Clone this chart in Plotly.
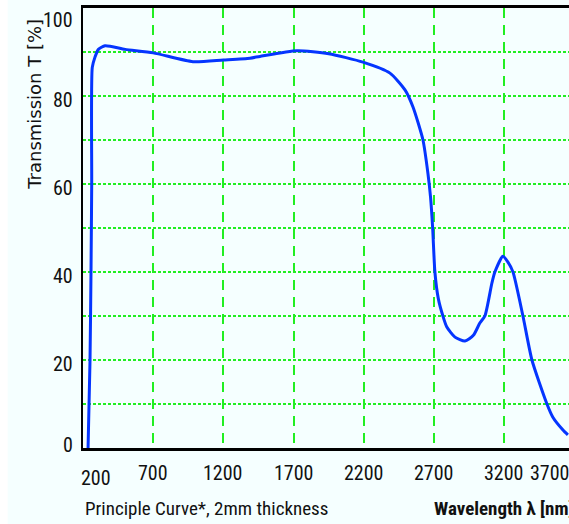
import plotly.graph_objects as go

# Transmission curve
wavelength = [236, 250, 257, 262, 266, 285, 310, 357, 500, 700, 983, 1200, 1389, 1460,
              1724, 1950, 2194, 2386, 2493, 2550, 2621, 2656, 2675, 2690, 2706, 2730, 2763,
              2791, 2849, 2920, 2980, 3026, 3062, 3112, 3133, 3190, 3225, 3262, 3333, 3397, 3504,
              3546, 3618, 3653]
transmission = [0, 20, 40, 60, 86.5, 88.8, 90.6, 91.4, 90.6, 89.8, 87.8, 88.2, 88.6, 89.0,
                90.3, 89.6, 87.7, 85.2, 81.4, 77.5, 70, 62.5, 57, 50, 40, 34, 30,
                27.5, 25.2, 24.3, 25.6, 28.4, 30, 37.5, 40, 43.6, 42.3, 40, 30, 20, 10,
                7, 4.1, 3.0]

x_ticks = [200, 700, 1200, 1700, 2200, 2700, 3200, 3700]
x_tick_labels = ["200", "700", "1200", "1700", "2200", "2700", "3200", "3700"]
y_ticks = [0, 20, 40, 60, 80, 100]
y_tick_labels = ["0", "20", "40", "60", "80", "100"]
y_grid = [0, 10, 20, 30, 40, 50, 60, 70, 80, 90, 100]

X_RANGE = [200, 3661]
BG = "#F5FFFF"
GRID = "#22EE22"
NARROW = "Liberation Sans Narrow, Arial Narrow, Roboto Condensed, Roboto, sans-serif"

fig = go.Figure()
fig.add_trace(go.Scatter(
    x=wavelength, y=transmission, mode="lines",
    line=dict(color="#0535FF", width=3, shape="spline", smoothing=0.6),
    showlegend=False, hoverinfo="skip",
))

fig.update_layout(
    width=569, height=524,
    margin=dict(l=83, r=0, t=8, b=76),
    paper_bgcolor=BG, plot_bgcolor=BG,
    xaxis=dict(
        range=X_RANGE, tickvals=x_ticks[1:], showticklabels=False,
        showgrid=True, gridcolor=GRID, gridwidth=1.5, griddash="10px,7px",
        showline=True, linecolor="black", linewidth=3, mirror=True,
        zeroline=False, ticks="",
    ),
    yaxis=dict(
        range=[0, 100], tickvals=y_grid, showticklabels=False,
        showgrid=True, gridcolor=GRID, gridwidth=1.5, griddash="3px,2px",
        showline=True, linecolor="black", linewidth=2,
        zeroline=False, ticks="",
    ),
    shapes=[dict(type="rect", xref="paper", yref="paper", x0=-0.171, x1=-0.155,
                 y0=-0.2, y1=1.05, fillcolor="white", line=dict(width=0), layer="below")],
)

annotations = []
for v, t in zip(x_ticks, x_tick_labels):
    shift = 0
    yshift = -25
    if v == 200:
        shift, yshift = 13, -30
    if v == 3700:
        shift = -24
    annotations.append(dict(
        x=(v - X_RANGE[0]) / (X_RANGE[1] - X_RANGE[0]), y=0, xref="paper", yref="paper",
        text=t, showarrow=False,
        xanchor="center", yanchor="middle", xshift=shift, yshift=yshift,
        font=dict(family=NARROW, size=20, color="#111"),
    ))
for v, t in zip(y_ticks, y_tick_labels):
    ys = -4
    if v == 100:
        ys = -12
    if v == 0:
        ys = 3
    annotations.append(dict(
        x=0, y=v, xref="paper", yref="y", text=t, showarrow=False,
        xanchor="right", yanchor="middle", xshift=-8, yshift=ys,
        font=dict(family=NARROW, size=20, color="#111"),
    ))
annotations.append(dict(
    x=0, y=78, xref="paper", yref="y", text="Transmission T [%]",
    showarrow=False, textangle=-90, xanchor="center", yanchor="middle", xshift=-48,
    font=dict(family="DejaVu Sans, Verdana, sans-serif", size=18, color="#111"),
))
annotations.append(dict(
    x=0, y=0, xref="paper", yref="paper", text="Principle Curve*, 2mm thickness",
    showarrow=False, xanchor="left", yanchor="middle", yshift=-60,
    font=dict(family=NARROW, size=19, color="#111"),
))
annotations.append(dict(
    x=0.718, y=0, xref="paper", yref="paper", text="<b>Wavelength λ [nm]</b>",
    showarrow=False, xanchor="left", yanchor="middle", yshift=-60,
    font=dict(family=NARROW, size=19, color="#111"),
))
fig.update_layout(annotations=annotations)

fig.write_html("out.html")
